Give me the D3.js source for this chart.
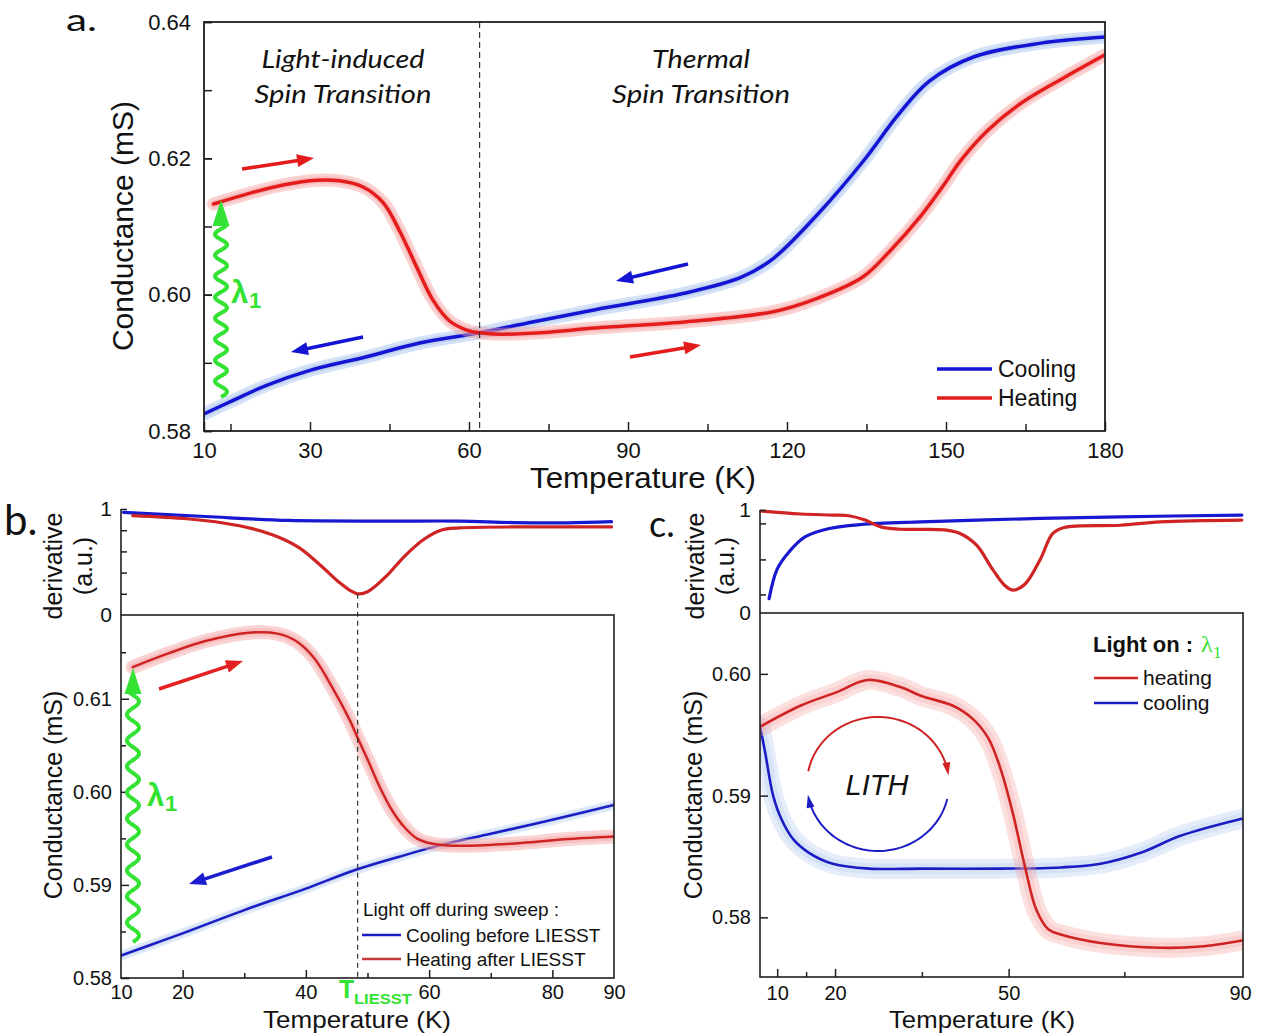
<!DOCTYPE html>
<html><head><meta charset="utf-8">
<script src="https://cdn.jsdelivr.net/npm/d3@7/dist/d3.min.js"></script>
<style>body{margin:0;background:#fff;}svg{display:block;}</style>
</head><body>
<svg id="chart" width="1267" height="1036"></svg>
<script>
// ================= DATA =================
// Panel a : conductance (mS) vs temperature (K)
const aCoolT = [10,15.5,21.8,30,40.7,50.7,62,72,83.8,100.6,111.5,117.4,125.8,134.3,141,146.8,155.3,167.9,180];
const aCoolG = [0.5825,0.5845,0.5867,0.5889,0.5909,0.5929,0.5944,0.5960,0.5978,0.6002,0.6026,0.6053,0.6118,0.6195,0.6264,0.6313,0.6349,0.6369,0.6378];
const aHeatT = [11.8,18.7,24.9,31.3,35.6,40,43.8,47,50.1,53.2,56.4,59.6,62,66,75,83.8,100.6,117.4,125.8,134.3,139.3,145.3,149.5,152.9,158,164,172.4,180];
const aHeatG = [0.6133,0.6149,0.6161,0.6168,0.6167,0.6158,0.6135,0.6092,0.6041,0.5992,0.5961,0.5948,0.5944,0.5942,0.5945,0.5951,0.5960,0.5975,0.5995,0.6026,0.6063,0.6116,0.6160,0.6198,0.6242,0.6280,0.6319,0.6352];
const aXLabels = [10,30,60,90,120,150,180];
const aXMinor = [15,45,75,105,135,165];
const aYTicks = [0.58,0.59,0.60,0.61,0.62,0.63,0.64];
const aYLabels = [0.58,0.60,0.62,0.64];
const aDashedT = 62;

// Panel b : light off during sweep
const bCoolT = [10,15,20,30,40,48,55,62,70,80,90];
const bCoolG = [0.5824,0.5836,0.5848,0.5873,0.5896,0.5916,0.5930,0.5943,0.5955,0.5970,0.5986];
const bHeatT = [11.9,17.8,23.7,30.7,35.4,38.4,41.3,44.3,47.2,48.4,50,52,54,56,58,60,62,66,75,82,90];
const bHeatG = [0.6134,0.6149,0.6162,0.6171,0.6170,0.6162,0.6144,0.6112,0.6076,0.6058,0.6035,0.6005,0.5980,0.5962,0.5950,0.5945,0.5943,0.5942,0.5945,0.5949,0.5952];
const bDerCoolT = [10.4,23.7,37.2,53,64.9,73.7,82.5,89.6];
const bDerCoolV = [0.969,0.929,0.892,0.886,0.886,0.872,0.870,0.880];
const bDerHeatT = [11.9,20.7,26.6,31.3,35.4,39,42.5,45.4,47.2,48.4,50.1,53.1,56,59,61.9,64.9,76.6,89.6];
const bDerHeatV = [0.938,0.908,0.868,0.815,0.738,0.631,0.462,0.308,0.231,0.2,0.222,0.369,0.554,0.708,0.8,0.822,0.831,0.831];
const bXLabels = [10,20,40,60,80,90];
const bXMajor = [20,40,60,80];
const bXMinor = [30,50,70];
const bYMajor = [0.58,0.59,0.60,0.61];
const bYMinor = [0.585,0.595,0.605,0.615];
const bDerTicks = [0.2,0.4,0.6,0.8,1];
const bDerLabels = [0,1];
const tLIESST = 48.4;

// Panel c : light on (lambda 1)
const cHeatT = [7.2,14.1,20.3,25.6,31.4,34.8,40.3,43.8,46.5,48.6,50.7,52.8,54.8,56.9,59,65.9,76.2,83.1,90.3];
const cHeatG = [0.5957,0.5974,0.5985,0.5995,0.5989,0.5982,0.5974,0.5963,0.5947,0.5922,0.5886,0.5842,0.5806,0.5790,0.5786,0.5779,0.5775,0.5776,0.5781];
const cCoolT = [7.03,7.9,9.3,10.7,12.8,15.5,19.6,25.9,34.8,48.6,59,65.9,72.8,79.7,90.3];
const cCoolG = [0.5957,0.5936,0.5900,0.5881,0.5864,0.5853,0.5844,0.5840,0.5840,0.5840,0.5841,0.5844,0.5853,0.5867,0.5881];
const cDerCoolT = [8.6,10,12,14.8,19,24.5,34.8,55.5,69.3,90.3];
const cDerCoolV = [0.14,0.426,0.59,0.738,0.82,0.859,0.885,0.918,0.934,0.951];
const cDerHeatT = [7.2,14.1,19.6,22.4,25.2,27.9,31.4,38.96,41.7,44.5,47.2,49.3,50.7,52.8,55.5,57.6,59.6,69.3,76.2,90.3];
const cDerHeatV = [0.99,0.961,0.951,0.944,0.902,0.836,0.813,0.807,0.77,0.656,0.426,0.269,0.223,0.279,0.525,0.77,0.83,0.852,0.885,0.902];
const cXLabels = [10,20,50,90];
const cXMajor = [10,20,50];
const cXMinor = [15,35,70];
const cYLabels = [0.58,0.59,0.60];
const cDerTicks = [0.18,0.52,0.87,1];
const cDerLabels = [0,1];

// ================= DRAWING =================
const svg = d3.select("#chart");
const SANS = "'Liberation Sans', Arial, sans-serif";
const CAL = "Lato, 'Open Sans', sans-serif";
const GREEN = "#33e233";
const A_BLUE = "#1414d4", A_RED = "#e41c1c";
const B_BLUE = "#1c1cc4", B_RED = "#d02424";
const FRAME = "#1e1e1e";

const ax = d3.scaleLinear().domain([10,180]).range([204,1105]);
const ay = d3.scaleLinear().domain([0.58,0.64]).range([431,22]);
const bx = d3.scaleLinear().domain([10,90]).range([121,614]);
const by = d3.scaleLinear().domain([0.58,0.619]).range([978,615]);
const bdy = d3.scaleLinear().domain([0,1]).range([615,509]);
const cx = d3.scaleLinear().domain([7.03,90.5]).range([760,1243]);
const cy = d3.scaleLinear().domain([0.5751,0.6050]).range([977,613]);
const cdy = d3.scaleLinear().domain([0,1]).range([613,510]);

const defs = svg.append("defs");
function clip(id,x,y,w,h){ defs.append("clipPath").attr("id",id).append("rect").attr("x",x).attr("y",y).attr("width",w).attr("height",h); }
clip("clipA",204,22,901,409);
clip("clipB",121,615,493,363);
clip("clipC",760,613,483,364);

const lineGen = d3.line().curve(d3.curveCatmullRom.alpha(0.5));
function series(x,y,T,V,color,w,band,bandW,bandOp,clipId){
  const pts = T.map((t,i)=>[x(t),y(V[i])]);
  const g = svg.append("g"); if(clipId) g.attr("clip-path",`url(#${clipId})`);
  if(band){
    g.append("path").attr("d",lineGen(pts)).attr("fill","none").attr("stroke",band)
     .attr("stroke-width",bandW).attr("stroke-opacity",bandOp).attr("stroke-linecap","round").attr("stroke-linejoin","round");
    g.append("path").attr("d",lineGen(pts)).attr("fill","none").attr("stroke",band)
     .attr("stroke-width",bandW*0.55).attr("stroke-opacity",bandOp*0.8).attr("stroke-linecap","round").attr("stroke-linejoin","round");
  }
  g.append("path").attr("d",lineGen(pts)).attr("fill","none").attr("stroke",color)
   .attr("stroke-width",w).attr("stroke-linejoin","round").attr("stroke-linecap","round");
}

function axisG(scale,orient,pos,vals,len,labelled,fs,pad,fmt){
  const gen = (orient==="b"?d3.axisBottom:d3.axisLeft)(scale).tickValues(vals).tickSize(-len).tickPadding(pad)
     .tickFormat(labelled?(fmt||(d=>d)):(()=>""));
  const g = svg.append("g").attr("transform",orient==="b"?`translate(0,${pos})`:`translate(${pos},0)`).call(gen);
  g.select(".domain").remove();
  g.selectAll("line").attr("stroke",FRAME).attr("stroke-width",1.5);
  g.selectAll("text").attr("font-size",fs).attr("font-family",SANS).attr("fill","#111");
  return g;
}

function arrow(x1,y1,x2,y2,color,w,hl,hw){
  const a = Math.atan2(y2-y1,x2-x1);
  const bx0 = x2-hl*Math.cos(a), by0 = y2-hl*Math.sin(a);
  svg.append("line").attr("x1",x1).attr("y1",y1).attr("x2",bx0+Math.cos(a)).attr("y2",by0+Math.sin(a))
     .attr("stroke",color).attr("stroke-width",w);
  const px = -Math.sin(a)*hw/2, py = Math.cos(a)*hw/2;
  svg.append("path").attr("d",`M${x2},${y2}L${bx0+px},${by0+py}L${bx0-px},${by0-py}Z`).attr("fill",color);
}

function wavy(x,yBot,yTip,amp,period,hl,hw){
  const yBase = yTip+hl, pts=[];
  for(let y=yBot;y>=yBase-2;y-=0.5) pts.push([x+amp*Math.sin((yBot-y)/period*2*Math.PI),y]);
  svg.append("path").attr("d",d3.line()(pts)).attr("fill","none").attr("stroke",GREEN).attr("stroke-width",4);
  svg.append("path").attr("d",`M${x},${yTip}L${x-hw/2},${yBase}L${x+hw/2},${yBase}Z`).attr("fill",GREEN);
}

function text(x,y,s,opt){
  const t = svg.append("text").attr("x",x).attr("y",y).text(s)
    .attr("font-family",opt.ff||SANS).attr("font-size",opt.fs).attr("fill",opt.fill||"#111")
    .attr("text-anchor",opt.anchor||"start");
  if(opt.style) t.attr("font-style",opt.style);
  if(opt.weight) t.attr("font-weight",opt.weight);
  if(opt.rot) t.attr("transform",`rotate(-90,${x},${y})`);
  if(opt.len) t.attr("textLength",opt.len).attr("lengthAdjust","spacingAndGlyphs");
  return t;
}

// ---------- Panel a ----------
series(ax,ay,aCoolT,aCoolG,A_BLUE,3.5,"#9fbdec",13,0.45,"clipA");
series(ax,ay,aHeatT,aHeatG,A_RED,3.5,"#f59c9c",13,0.45,"clipA");
svg.append("line").attr("x1",ax(aDashedT)).attr("x2",ax(aDashedT)).attr("y1",22).attr("y2",431)
  .attr("stroke","#333").attr("stroke-width",1.2).attr("stroke-dasharray","6,4");
svg.append("rect").attr("x",204).attr("y",22).attr("width",901).attr("height",409)
  .attr("fill","none").attr("stroke",FRAME).attr("stroke-width",1.8);
axisG(ax,"b",431,aXLabels,9,true,22,11);
axisG(ax,"b",431,aXMinor,7,false,22,11);
axisG(ay,"l",204,aYTicks,8,false,22,13);
axisG(ay,"l",204,aYLabels,8,true,22,13,d3.format(".2f"));
text(643,488,"Temperature (K)",{fs:29,anchor:"middle",len:226});
text(133,226,"Conductance (mS)",{fs:30,anchor:"middle",rot:true});
text(66,31,"a.",{fs:30,ff:CAL,len:31});
text(343,68,"Light-induced",{fs:25,ff:CAL,style:"italic",anchor:"middle",len:163});
text(343,103,"Spin Transition",{fs:25,ff:CAL,style:"italic",anchor:"middle",len:177});
text(701,68,"Thermal",{fs:25,ff:CAL,style:"italic",anchor:"middle",len:98});
text(701,103,"Spin Transition",{fs:25,ff:CAL,style:"italic",anchor:"middle",len:178});
// legend a
svg.append("line").attr("x1",937).attr("x2",992).attr("y1",369).attr("y2",369).attr("stroke",A_BLUE).attr("stroke-width",3.5);
svg.append("line").attr("x1",937).attr("x2",992).attr("y1",398).attr("y2",398).attr("stroke",A_RED).attr("stroke-width",3.5);
text(998,377,"Cooling",{fs:23});
text(998,406,"Heating",{fs:23});
// arrows a
arrow(242,169,314,158,A_RED,3.5,17,13);
arrow(363,337,291,352,A_BLUE,3.5,17,13);
arrow(688,264,616,281,A_BLUE,3.5,17,13);
arrow(630,357,701,345,A_RED,3.5,17,13);
wavy(221,397,200,6,21,26,17);
text(231,303,"λ",{fs:31,fill:GREEN,weight:"bold"});
text(249,308,"1",{fs:22,fill:GREEN,weight:"bold"});

// ---------- Panel b ----------
series(bx,by,bCoolT,bCoolG,B_BLUE,2.5,"#a9c4ee",10,0.35,"clipB");
series(bx,by,bHeatT,bHeatG,B_RED,2.5,"#f5a0a0",14,0.45,"clipB");
series(bx,bdy,bDerCoolT,bDerCoolV,"#1818d0",3.2);
series(bx,bdy,bDerHeatT,bDerHeatV,B_RED,3.2);
svg.append("line").attr("x1",bx(tLIESST)).attr("x2",bx(tLIESST)).attr("y1",bdy(0.2)).attr("y2",978)
  .attr("stroke","#333").attr("stroke-width",1.2).attr("stroke-dasharray","5,4");
svg.append("rect").attr("x",121).attr("y",615).attr("width",493).attr("height",363)
  .attr("fill","none").attr("stroke",FRAME).attr("stroke-width",1.6);
svg.append("line").attr("x1",121).attr("x2",121).attr("y1",509).attr("y2",615).attr("stroke",FRAME).attr("stroke-width",1.6);
axisG(bx,"b",978,bXMajor,8,false,20,7);
axisG(bx,"b",978,bXMinor,5,false,20,7);
axisG(bx,"b",978,bXLabels,0,true,20,7);
axisG(by,"l",121,bYMajor,8,true,20,9,d3.format(".2f"));
axisG(by,"l",121,bYMinor,5,false,20,9);
axisG(bdy,"l",121,bDerTicks,6,false,20,9);
axisG(bdy,"l",121,bDerLabels,0,true,21,9);
text(357,1028,"Temperature (K)",{fs:24,anchor:"middle",len:188});
text(62,795,"Conductance (mS)",{fs:25,anchor:"middle",rot:true});
text(62,566,"derivative",{fs:25,anchor:"middle",rot:true});
text(92,566,"(a.u.)",{fs:25,anchor:"middle",rot:true});
text(4,535,"b.",{fs:42,ff:CAL});
text(339,998,"T",{fs:25,fill:GREEN,weight:"bold"});
text(354,1004,"LIESST",{fs:15,fill:GREEN,weight:"bold",len:58});
// legend b
text(363,916,"Light off during sweep :",{fs:19});
svg.append("line").attr("x1",362).attr("x2",401).attr("y1",935).attr("y2",935).attr("stroke",B_BLUE).attr("stroke-width",2.5);
svg.append("line").attr("x1",362).attr("x2",401).attr("y1",959).attr("y2",959).attr("stroke","#c83a3a").attr("stroke-width",2.5);
text(406,942,"Cooling before LIESST",{fs:19});
text(406,966,"Heating after LIESST",{fs:19});
arrow(159,689,243,661,"#e42020",3.5,17,13);
arrow(272,857,189,884,"#1c1cd0",3.5,17,13);
wavy(133,942,668,6,26,26,17);
text(147,806,"λ",{fs:31,fill:GREEN,weight:"bold"});
text(165,811,"1",{fs:22,fill:GREEN,weight:"bold"});

// ---------- Panel c ----------
series(cx,cy,cCoolT,cCoolG,B_BLUE,2.6,"#a9c4ee",20,0.3,"clipC");
series(cx,cy,cHeatT,cHeatG,B_RED,2.6,"#f5a0a0",20,0.32,"clipC");
series(cx,cdy,cDerCoolT,cDerCoolV,"#1818d0",3.2);
series(cx,cdy,cDerHeatT,cDerHeatV,B_RED,3.2);
svg.append("rect").attr("x",760).attr("y",613).attr("width",483).attr("height",364)
  .attr("fill","none").attr("stroke",FRAME).attr("stroke-width",1.6);
svg.append("line").attr("x1",760).attr("x2",760).attr("y1",510).attr("y2",613).attr("stroke",FRAME).attr("stroke-width",1.6);
axisG(cx,"b",977,cXMajor,8,false,20,9);
axisG(cx,"b",977,cXMinor,5,false,20,9);
axisG(cx,"b",977,cXLabels,0,true,20,9);
axisG(cy,"l",760,cYLabels,8,true,20,9,d3.format(".2f"));
axisG(cdy,"l",760,cDerTicks,6,false,20,9);
axisG(cdy,"l",760,cDerLabels,0,true,21,9);
text(982,1028,"Temperature (K)",{fs:24,anchor:"middle",len:186});
text(702,795,"Conductance (mS)",{fs:25,anchor:"middle",rot:true});
text(704,566,"derivative",{fs:25,anchor:"middle",rot:true});
text(734,566,"(a.u.)",{fs:25,anchor:"middle",rot:true});
text(649,537,"c.",{fs:36,ff:CAL});
// legend c
text(1093,652,"Light on : ",{fs:22,weight:"bold"});
text(1201,652,"λ",{fs:24,fill:GREEN,ff:"'Liberation Serif','Times New Roman',serif"});
text(1213,658,"1",{fs:17,fill:GREEN,ff:"'Liberation Serif','Times New Roman',serif"});
svg.append("line").attr("x1",1094).attr("x2",1138).attr("y1",678).attr("y2",678).attr("stroke",B_RED).attr("stroke-width",2.5);
svg.append("line").attr("x1",1094).attr("x2",1138).attr("y1",703).attr("y2",703).attr("stroke",B_BLUE).attr("stroke-width",2.5);
text(1143,685,"heating",{fs:21});
text(1143,710,"cooling",{fs:21});
// LITH loop
(function(){
  const c0=[878,784], rx=71, ry=67;
  function arcPts(a0,a1){ const p=[]; const n=60; for(let i=0;i<=n;i++){const t=(a0+(a1-a0)*i/n)*Math.PI/180; p.push([c0[0]+rx*Math.cos(t), c0[1]-ry*Math.sin(t)]);} return p; }
  function head(a,color){ const t=a*Math.PI/180; const x=c0[0]+rx*Math.cos(t), y=c0[1]-ry*Math.sin(t);
    const dx=rx*Math.sin(t), dy=ry*Math.cos(t); const L=Math.hypot(dx,dy); const ux=dx/L, uy=dy/L;
    const hl=11, hw=8; const bxp=x-ux*hl, byp=y-uy*hl;
    svg.append("path").attr("d",`M${x+ux*2},${y+uy*2}L${bxp-uy*hw/2},${byp+ux*hw/2}L${bxp+uy*hw/2},${byp-ux*hw/2}Z`).attr("fill",color); }
  svg.append("path").attr("d",d3.line()(arcPts(169,12))).attr("fill","none").attr("stroke",B_RED).attr("stroke-width",2);
  head(9,B_RED);
  svg.append("path").attr("d",d3.line()(arcPts(-13,-166))).attr("fill","none").attr("stroke",B_BLUE).attr("stroke-width",2);
  head(-169,B_BLUE);
})();
text(877,795,"LITH",{fs:29,style:"italic",anchor:"middle"});
</script>
</body></html>
